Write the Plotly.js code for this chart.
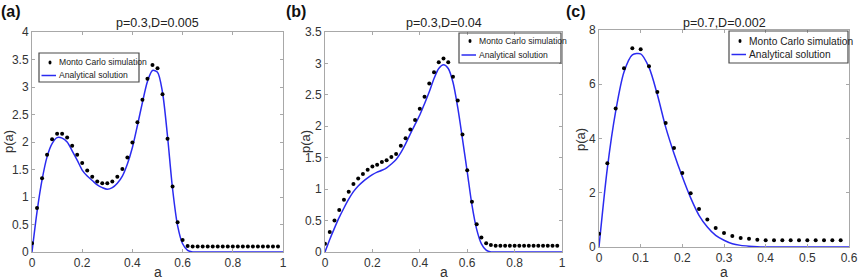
<!DOCTYPE html>
<html>
<head>
<meta charset="utf-8">
<script src="https://cdn.plot.ly/plotly-3.0.1.min.js"></script>
<style>html,body{margin:0;padding:0;background:#fff;}#chart{width:858px;height:280px;}</style>
</head>
<body>
<div id="chart"></div>
<script>
// ---- data ----
const mcX1 = [0,0.02,0.04,0.06,0.08,0.10,0.12,0.14,0.16,0.18,0.20,0.22,0.24,0.26,0.28,0.30,0.32,0.34,0.36,0.38,0.40,0.42,0.44,0.46,0.48,0.50,0.52,0.54,0.56,0.58,0.60,0.62,0.64,0.66,0.68,0.70,0.72,0.74,0.76,0.78,0.80,0.82,0.84,0.86,0.88,0.90,0.92,0.94,0.96,0.98];
const lineX1 = [0,0.02,0.04,0.06,0.08,0.10,0.12,0.14,0.16,0.18,0.20,0.22,0.24,0.26,0.28,0.30,0.32,0.34,0.36,0.38,0.40,0.42,0.44,0.46,0.48,0.50,0.52,0.54,0.56,0.58,0.60,0.62,0.64,0.66,0.68,0.70,0.72,0.74,0.76,0.78,0.80,0.82,0.84,0.86,0.88,0.90,0.92,0.94,0.96,0.98,1.00];
const mcX3 = [0,0.02,0.04,0.06,0.08,0.10,0.12,0.14,0.16,0.18,0.20,0.22,0.24,0.26,0.28,0.30,0.32,0.34,0.36,0.38,0.40,0.42,0.44,0.46,0.48,0.50,0.52,0.54,0.56,0.58];
const lineX3 = [0,0.02,0.04,0.06,0.08,0.10,0.12,0.14,0.16,0.18,0.20,0.22,0.24,0.26,0.28,0.30,0.32,0.34,0.36,0.38,0.40,0.42,0.44,0.46,0.48,0.50,0.52,0.54,0.56,0.58,0.60];

const mcA = [0.16,0.80,1.34,1.77,2.05,2.15,2.15,2.08,1.93,1.77,1.62,1.48,1.37,1.28,1.25,1.25,1.28,1.37,1.51,1.72,1.99,2.36,2.77,3.15,3.40,3.34,2.87,2.06,1.19,0.54,0.22,0.11,0.10,0.10,0.10,0.10,0.10,0.10,0.10,0.10,0.10,0.10,0.10,0.10,0.10,0.10,0.10,0.10,0.10,0.10];
const anA = [0,0.73,1.31,1.73,1.97,2.08,2.07,2.00,1.84,1.67,1.49,1.38,1.30,1.22,1.17,1.14,1.17,1.25,1.38,1.60,1.90,2.30,2.72,3.10,3.30,3.27,2.90,2.10,1.15,0.48,0.15,0.03,0,0,0,0,0,0,0,0,0,0,0,0,0,0,0,0,0,0,0];

const mcB = [0.13,0.32,0.50,0.67,0.83,0.96,1.08,1.17,1.24,1.31,1.36,1.39,1.43,1.46,1.51,1.56,1.69,1.81,1.95,2.10,2.28,2.47,2.68,2.86,3.02,3.08,3.02,2.79,2.41,1.87,1.30,0.80,0.44,0.23,0.14,0.11,0.10,0.10,0.10,0.10,0.10,0.10,0.10,0.10,0.10,0.10,0.10,0.10,0.10,0.10];
const anB = [0,0.20,0.38,0.55,0.70,0.84,0.96,1.05,1.12,1.18,1.23,1.27,1.30,1.34,1.40,1.47,1.58,1.72,1.88,2.03,2.18,2.36,2.55,2.76,2.92,2.98,2.92,2.70,2.30,1.80,1.28,0.75,0.36,0.13,0.03,0,0,0,0,0,0,0,0,0,0,0,0,0,0,0,0];

const mcC = [0.49,3.09,5.11,6.59,7.33,7.29,6.66,5.71,4.57,3.65,2.73,1.98,1.40,1.01,0.70,0.52,0.41,0.33,0.30,0.27,0.25,0.25,0.25,0.25,0.25,0.25,0.25,0.25,0.25,0.25];
const anC = [0,2.90,5.00,6.45,7.08,7.12,6.62,5.62,4.42,3.45,2.59,1.81,1.17,0.74,0.43,0.25,0.12,0.06,0.03,0.01,0,0,0,0,0,0,0,0,0,0,0];

const panelTitles = ["p=0.3,D=0.005", "p=0.3,D=0.04", "p=0.7,D=0.002"];
const panelLabels = ["(a)", "(b)", "(c)"];
const seriesNames = ["Monto Carlo simulation", "Analytical solution"];
const xTitle = "a";
const yTitle = "p(a)";

// ---- style / layout ----
const W = 858, H = 280;
const blue = "#2b2bf0";
const frame = "#a8a8a8";
const FAM = "Liberation Sans, Arial, sans-serif";
const tickFont = {family: FAM, size: 12, color: "#333"};

// plot boxes in pixels [left, right, top, bottom]
const boxes = [[32,283,32,252],[325,562,32,252],[599,849,30,247]];
// legend boxes in pixels: [left, right, top, bottom, row1 y, row2 y, fontsize]
const legBoxes = [[39,139,53,82,62.5,75.5,8.6],[459,561,33,63,41,55,8.6],[729,848,31,63,41,54.5,10.2]];
const px = v => v / W, py = v => 1 - v / H;

function xa(i, range, dtick) {
  const b = boxes[i];
  return {domain:[px(b[0]), px(b[1])], range: range, dtick: dtick, tick0: 0,
    showline:true, linecolor:frame, linewidth:1, mirror:'ticks', ticks:'inside', ticklen:3, tickcolor:frame,
    showgrid:false, zeroline:false, tickfont:tickFont, anchor: 'y' + (i ? i+1 : ''), fixedrange:true};
}
function ya(i, range, dtick) {
  const b = boxes[i];
  return {domain:[py(b[3]), py(b[2])], range: range, dtick: dtick, tick0: 0,
    showline:true, linecolor:frame, linewidth:1, mirror:'ticks', ticks:'inside', ticklen:3, tickcolor:frame,
    showgrid:false, zeroline:false, tickfont:tickFont, anchor: 'x' + (i ? i+1 : ''), fixedrange:true};
}

const traces = [];
const sets = [[mcX1, mcA, lineX1, anA], [mcX1, mcB, lineX1, anB], [mcX3, mcC, lineX3, anC]];
sets.forEach((s, i) => {
  const sfx = i ? String(i+1) : '';
  traces.push({x:s[2], y:s[3], type:'scatter', mode:'lines', name:seriesNames[1],
    line:{color:blue, width:1.5, shape:'spline', smoothing:0.8},
    xaxis:'x'+sfx, yaxis:'y'+sfx, showlegend:false});
  traces.push({x:s[0], y:s[1], type:'scatter', mode:'markers', name:seriesNames[0],
    marker:{color:'#000', size:4, symbol:'circle'},
    xaxis:'x'+sfx, yaxis:'y'+sfx, showlegend:false});
});

const annotations = [];
const shapes = [];
boxes.forEach((b, i) => {
  const cx = (b[0] + b[1]) / 2;
  annotations.push({text: panelTitles[i], xref:'paper', yref:'paper', x:px(cx), y:py(23), xanchor:'center', yanchor:'middle',
    showarrow:false, font:{family:FAM, size:12.5, color:'#222'}});
  annotations.push({text: xTitle, xref:'paper', yref:'paper', x:px(cx), y:py(272), xanchor:'center', yanchor:'middle',
    showarrow:false, font:{family:FAM, size:14, color:'#333'}});
});
const yTitleX = [8, 305, 580];
const yTitleY = [142, 142, 140];
yTitleX.forEach((x, i) => {
  annotations.push({text: yTitle, xref:'paper', yref:'paper', x:px(x), y:py(yTitleY[i]), xanchor:'center', yanchor:'middle',
    textangle:-90, showarrow:false, font:{family:FAM, size:13, color:'#333'}});
});
const labX = [11, 296, 576];
labX.forEach((x, i) => {
  annotations.push({text: '<b>' + panelLabels[i] + '</b>', xref:'paper', yref:'paper', x:px(x), y:py(12), xanchor:'center', yanchor:'middle',
    showarrow:false, font:{family:FAM, size:16, color:'#111'}});
});

// legend keys (one per panel): frame as a closed path, symbols as shapes
legBoxes.forEach(L => {
  const [l, r, t, b, r1, r2, fs] = L;
  const X0 = px(l), X1 = px(r), Y0 = py(b), Y1 = py(t);
  shapes.push({type:'path', xref:'paper', yref:'paper',
    path:'M' + X0 + ',' + Y0 + ' L' + X1 + ',' + Y0 + ' L' + X1 + ',' + Y1 + ' L' + X0 + ',' + Y1 + ' Z',
    line:{color:'#4a4a4a', width:1.2}, fillcolor:'rgba(255,255,255,0)', layer:'above'});
  shapes.push({type:'circle', xref:'paper', yref:'paper', x0:px(l+9.5), x1:px(l+12.5), y0:py(r1+2), y1:py(r1-2),
    line:{width:0}, fillcolor:'#000', layer:'above'});
  shapes.push({type:'line', xref:'paper', yref:'paper', x0:px(l+2.5), x1:px(l+17), y0:py(r2), y1:py(r2),
    line:{color:blue, width:1.5}, layer:'above'});
  annotations.push({text: seriesNames[0], xref:'paper', yref:'paper', x:px(l+18), y:py(r1), xanchor:'left', yanchor:'middle',
    showarrow:false, font:{family:FAM, size:fs, color:'#222'}});
  annotations.push({text: seriesNames[1], xref:'paper', yref:'paper', x:px(l+18), y:py(r2), xanchor:'left', yanchor:'middle',
    showarrow:false, font:{family:FAM, size:fs, color:'#222'}});
});

const layout = {
  width:W, height:H, margin:{l:0,r:0,t:0,b:0}, paper_bgcolor:'#fff', plot_bgcolor:'#fff',
  showlegend:false,
  xaxis: xa(0,[0,1],0.2), yaxis: ya(0,[0,4],0.5),
  xaxis2: xa(1,[0,1],0.2), yaxis2: ya(1,[0,3.5],0.5),
  xaxis3: xa(2,[0,0.6],0.1), yaxis3: ya(2,[0,8],2),
  annotations: annotations, shapes: shapes
};

Plotly.newPlot('chart', traces, layout, {displayModeBar:false, staticPlot:true});
</script>
</body>
</html>
